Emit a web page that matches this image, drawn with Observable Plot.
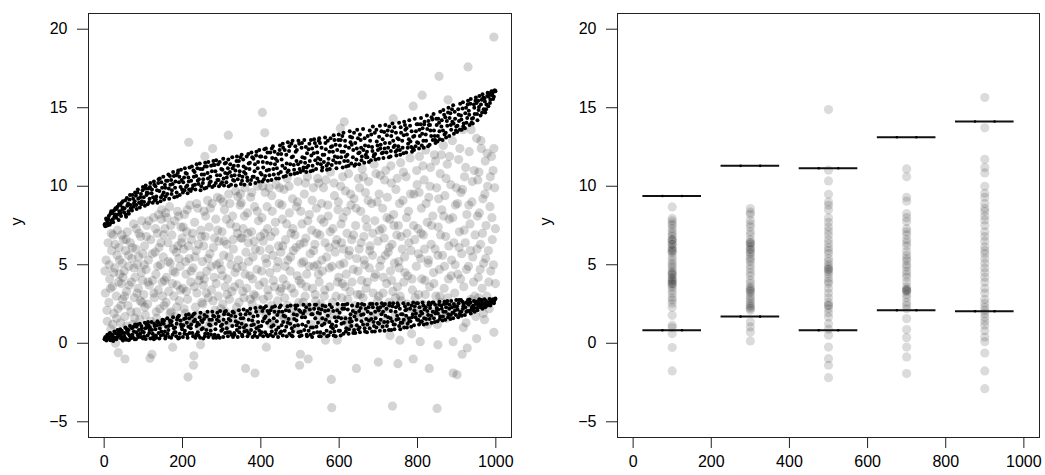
<!DOCTYPE html>
<html>
<head>
<meta charset="utf-8">
<script src="https://cdn.jsdelivr.net/npm/d3@7"></script>
<script src="https://cdn.jsdelivr.net/npm/@observablehq/plot@0.6"></script>
<style>
  html, body { margin: 0; padding: 0; background: #fff; }
  #panels { display: flex; width: 1045px; height: 475px; }
  #panels svg { display: block; }
</style>
</head>
<body>
<div id="panels"></div>
<script>
// ---- Left panel: raw observations (x, y) ----
const cloud = [
  [3,3.2],[5,5.3],[8,1.4],[10,6.4],[12,2.6],[14,4.1],[17,0.9],[19,5.9],[21,3.6],[23,6.9],[25,1.9],[27,4.8],[29,0.0],[31,3.0],[33,5.6],[35,2.2],[36,-0.6],[38,6.1],[40,4.4],[42,1.3],[44,3.8],[46,5.1],[47,2.8],[49,6.6],[53,-1.0],
  [51,4.6],[53,1.7],[55,5.9],[57,3.3],[59,7.1],[61,2.4],[63,4.9],[65,0.8],[67,6.4],[69,3.9],[71,5.4],[73,1.2],[75,7.6],[77,2.9],[79,4.2],[81,6.0],[83,2.0],[85,5.0],[87,3.5],[89,7.0],[91,1.5],[93,6.8],[95,4.5],[97,2.6],[99,5.7],[86,0.5],
  [101,3.1],[103,6.2],[105,1.8],[107,4.7],[109,7.5],[111,2.5],[113,5.3],[115,3.7],[117,-0.95],[119,6.6],[121,1.1],[122,-0.7],[124,4.0],[126,8.0],[128,2.9],[130,5.8],[132,4.4],[134,1.6],[136,7.0],[138,3.4],[140,6.1],[142,2.2],[144,5.0],[146,7.9],[148,3.9],[147,8.5],
  [151,5.5],[153,2.4],[155,7.3],[157,8.3],[159,4.2],[161,1.4],[163,6.4],[165,3.3],[167,8.7],[169,5.1],[171,2.0],[173,6.9],[175,-0.25],[176,4.6],[178,3.0],[180,7.8],[182,1.7],[184,5.8],[186,3.7],[188,6.2],[190,8.1],[192,2.7],[194,4.9],[196,7.4],[198,1.2],[199,6.7],
  [201,3.5],[203,6.0],[205,8.2],[207,1.9],[209,4.4],[211,7.1],[213,2.8],[214,-2.15],[216,12.8],[217,5.4],[219,8.8],[221,3.9],[223,6.6],[225,1.5],[227,4.8],[228,-1.4],[229,-0.8],[231,7.7],[233,2.3],[235,5.9],[237,3.2],[239,8.6],[241,6.3],[243,1.0],[245,4.3],[246,-0.1],[247,7.2],[249,2.6],
  [251,5.2],[253,3.7],[255,8.4],[257,11.9],[258,6.8],[260,1.8],[262,4.6],[264,9.1],[266,2.9],[268,7.4],[270,5.7],[272,1.3],[274,3.4],[276,8.9],[277,12.4],[279,6.1],[281,4.2],[283,2.1],[285,7.9],[287,5.0],[289,9.3],[291,3.0],[293,6.5],[295,1.6],[297,9.2],[299,4.7],
  [301,7.1],[303,2.5],[305,5.6],[307,8.5],[309,3.6],[311,1.1],[313,6.3],[315,4.1],[317,13.25],[318,9.5],[320,2.8],[322,7.6],[324,5.0],[326,3.3],[328,8.1],[330,6.0],[332,1.9],[334,4.5],[336,9.7],[338,2.3],[340,7.0],[341,9.35],[343,5.3],[345,3.8],[347,8.8],[349,6.7],[350,8.95],
  [351,1.5],[353,4.9],[355,7.3],[357,2.9],[359,9.9],[361,-1.6],[362,5.8],[364,3.5],[366,8.3],[368,6.4],[370,1.9],[372,4.3],[374,9.3],[376,7.1],[378,2.5],[380,5.5],[382,3.1],[384,8.7],[385,-1.9],[386,6.0],[388,1.2],[390,4.7],[392,10.0],[394,7.8],[396,3.7],[398,5.9],
  [401,2.1],[403,8.0],[404,14.7],[406,6.5],[408,3.9],[410,13.4],[411,9.6],[413,1.7],[414,-0.25],[415,5.1],[417,7.3],[419,3.0],[421,9.9],[423,4.5],[425,6.8],[427,2.4],[429,8.4],[431,5.6],[433,1.3],[435,3.6],[437,7.7],[439,10.1],[441,4.8],[443,2.7],[445,6.2],[447,8.9],[449,3.3],
  [451,5.8],[453,1.8],[455,7.9],[457,4.1],[459,9.8],[461,2.9],[463,6.6],[465,3.7],[467,10.5],[469,5.3],[471,1.4],[473,8.3],[475,4.6],[477,7.0],[479,2.2],[481,9.2],[483,5.9],[485,3.2],[487,6.9],[489,1.0],[491,8.7],[493,4.3],[495,10.3],[497,2.6],[499,-1.4],[500,6.3],[501,-0.7],
  [503,3.8],[505,7.6],[507,1.9],[509,5.2],[511,9.5],[513,3.0],[515,6.7],[517,4.4],[519,10.6],[521,-1.0],[522,2.3],[524,8.2],[526,5.7],[528,1.2],[530,7.2],[532,3.5],[534,9.9],[536,4.9],[538,6.3],[540,2.7],[542,8.6],[544,5.0],[546,1.6],[548,10.2],[549,3.9],
  [551,6.9],[553,2.5],[555,8.9],[557,4.6],[559,1.4],[561,7.7],[563,3.4],[565,0.2],[566,10.4],[568,5.5],[570,2.0],[572,8.1],[574,6.1],[576,3.6],[578,10.9],[580,-2.3],[581,-4.1],[582,4.9],[584,7.3],[586,1.8],[588,9.4],[590,5.8],[592,3.0],[594,6.6],[595,0.2],[597,8.5],[599,4.2],
  [601,2.2],[603,13.7],[604,10.0],[606,6.4],[608,3.8],[610,8.0],[612,5.1],[613,14.1],[614,1.5],[616,9.7],[618,4.4],[620,7.0],[622,2.8],[624,10.8],[626,5.9],[628,3.3],[630,8.8],[632,6.6],[634,1.0],[636,4.7],[638,9.2],[640,2.4],[642,7.5],[644,-1.6],[645,5.4],[647,3.1],[649,10.5],
  [651,6.0],[653,1.7],[655,8.4],[657,4.0],[659,11.1],[661,2.9],[663,6.8],[665,5.0],[667,9.6],[669,3.5],[671,7.4],[673,1.3],[675,10.3],[677,4.8],[679,6.2],[681,2.4],[683,8.9],[685,5.6],[687,3.2],[689,11.4],[691,7.8],[693,4.4],[695,1.9],[697,9.0],[699,6.5],[700,-1.2],
  [701,3.0],[703,7.2],[705,10.7],[707,5.3],[709,2.1],[711,8.6],[713,4.2],[715,6.7],[717,1.4],[719,11.0],[721,3.8],[723,9.3],[725,5.8],[727,2.6],[729,7.9],[730,0.5],[731,4.6],[733,10.2],[735,6.3],[736,-4.0],[737,3.3],[738,14.3],[739,8.2],[741,5.1],[743,1.8],[745,9.8],[747,6.9],[749,3.6],[750,-1.3],
  [751,7.5],[753,4.8],[755,0.2],[757,11.5],[759,2.7],[761,6.0],[763,9.1],[765,3.9],[767,5.5],[769,1.5],[771,10.6],[773,7.0],[775,4.3],[777,8.4],[779,2.2],[781,11.8],[783,5.9],[785,0.6],[787,3.4],[789,15.1],[789,-1.0],[791,9.5],[793,6.6],[795,1.9],[797,4.9],[799,10.1],
  [801,7.3],[803,3.1],[805,11.9],[807,0.1],[808,5.4],[810,8.6],[812,15.8],[813,2.5],[815,6.9],[817,10.4],[819,4.0],[821,12.3],[823,1.7],[825,7.7],[827,5.1],[829,9.3],[830,-1.6],[831,3.6],[833,11.2],[835,6.3],[837,2.0],[839,8.1],[841,4.5],[843,12.0],[845,6.0],[847,3.0],[849,9.9],
  [850,-4.15],[851,1.2],[852,-0.1],[853,7.4],[855,17.0],[856,4.7],[858,10.8],[860,2.6],[862,8.5],[864,5.6],[866,12.6],[868,3.5],[870,9.4],[872,6.8],[874,1.6],[876,11.4],[878,15.5],[879,4.1],[881,7.9],[883,2.3],[885,10.1],[887,5.3],[889,12.9],[891,0.1],[891,-1.9],[893,6.4],[895,3.2],[897,8.8],[899,9.9],
  [901,-2.0],[903,4.4],[905,11.7],[907,7.1],[909,2.0],[911,9.6],[913,5.7],[914,-0.7],[916,13.6],[918,3.6],[920,10.6],[922,6.4],[924,1.3],[926,8.2],[927,-0.3],[929,17.6],[930,4.9],[932,12.2],[934,7.6],[936,2.8],[937,13.6],[939,9.0],[941,5.5],[943,3.9],[945,11.0],[947,6.9],[949,1.7],
  [951,13.05],[951,0.3],[953,8.1],[955,4.2],[957,10.9],[959,2.4],[961,6.3],[963,12.4],[965,3.5],[967,9.2],[969,5.1],[971,1.5],[973,11.6],[975,7.5],[977,3.0],[979,10.0],[981,5.9],[983,2.2],[985,8.7],[987,4.6],[989,11.9],[991,6.6],[993,11.0],[995,12.4],[995,19.5],[995,0.7],[997,9.9],[999,3.8],[999,7.3],
  [2,4.6],[7,2.1],[13,5.0],[16,3.5],[22,1.2],[24,4.5],[28,6.3],[32,1.6],[37,3.9],[39,5.3],[43,2.4],[45,6.9],[48,4.2],[34,7.2],[18,7.0],
  [52,3.0],[56,6.6],[58,1.1],[62,5.6],[64,3.7],[68,2.0],[72,6.1],[76,4.8],[78,1.6],[82,7.3],[84,3.2],[88,5.5],[92,2.7],[96,7.8],[98,4.0],
  [102,5.0],[104,2.3],[108,6.8],[112,3.9],[114,7.8],[118,1.4],[123,5.7],[127,3.2],[131,7.3],[133,2.0],[137,4.9],[139,8.2],[143,1.2],[145,6.4],[149,3.0],
  [152,6.9],[154,4.0],[158,2.6],[160,8.0],[164,5.2],[168,1.9],[170,7.5],[174,3.8],[177,6.0],[181,4.5],[185,2.3],[187,8.4],[191,5.4],[195,3.4],[197,6.4],
  [202,7.4],[204,2.2],[208,5.2],[210,3.3],[212,8.5],[215,6.2],[218,1.3],[222,4.6],[226,7.0],[230,3.6],[232,5.5],[236,8.9],[238,1.8],[242,4.0],[248,6.8],
  [252,2.5],[254,6.2],[256,4.1],[259,8.1],[261,3.2],[265,5.4],[267,1.1],[271,8.6],[273,4.9],[278,2.7],[282,6.7],[286,3.8],[290,7.2],[294,5.1],[298,2.2],
  [302,4.3],[304,9.0],[306,6.5],[310,2.0],[312,7.9],[314,3.1],[319,5.5],[321,8.9],[325,1.4],[329,6.6],[333,3.6],[337,7.4],[339,4.8],[344,2.6],[348,9.5],
  [352,6.7],[354,3.3],[358,8.1],[360,4.4],[363,1.0],[367,7.0],[369,5.2],[373,2.8],[377,9.6],[379,4.1],[383,6.5],[387,3.0],[391,8.4],[395,2.2],[399,6.8],
  [402,4.6],[405,10.0],[407,2.8],[409,7.0],[412,5.4],[416,8.7],[418,3.4],[422,6.0],[426,1.2],[428,9.4],[432,4.0],[436,7.1],[440,2.0],[444,5.2],[448,9.9],
  [452,3.5],[454,8.8],[456,6.2],[460,1.6],[462,4.9],[466,7.6],[468,2.4],[472,10.0],[476,5.5],[478,3.5],[482,7.3],[486,1.8],[490,6.1],[494,9.0],[498,4.0],
  [502,8.4],[504,5.1],[508,2.6],[510,6.4],[514,10.2],[516,3.6],[520,7.8],[523,4.9],[527,2.0],[531,9.1],[535,5.9],[539,3.1],[543,7.0],[545,10.5],[547,4.4],
  [552,2.3],[554,7.9],[556,5.3],[560,9.9],[562,3.0],[564,6.4],[569,1.5],[571,8.8],[575,4.8],[577,7.1],[583,2.6],[587,10.2],[591,6.3],[596,3.9],[598,9.0],
  [602,5.0],[605,7.6],[607,2.9],[609,10.6],[611,6.0],[615,3.6],[619,8.4],[621,1.3],[625,5.6],[629,9.5],[633,3.9],[637,6.9],[641,1.9],[643,8.6],[648,4.6],
  [652,9.9],[654,3.1],[656,6.4],[660,2.1],[662,10.6],[664,5.3],[668,7.9],[672,3.9],[674,9.1],[678,5.9],[682,1.6],[686,7.0],[690,4.2],[694,10.8],[698,2.7],
  [702,9.5],[704,4.9],[706,1.2],[710,7.3],[712,3.2],[716,10.4],[718,5.6],[722,8.0],[726,2.2],[728,6.1],[732,11.3],[734,4.0],[740,7.5],[744,2.9],[748,10.5],
  [752,5.2],[754,8.9],[756,3.0],[758,6.8],[762,1.2],[764,10.9],[768,4.5],[772,8.0],[774,2.5],[778,6.4],[782,9.5],[786,4.1],[790,7.5],[794,2.9],[798,11.0],
  [802,5.7],[804,9.6],[806,2.1],[809,7.0],[811,4.1],[814,11.3],[818,6.0],[820,3.1],[822,8.9],[826,1.2],[828,5.3],[832,10.0],[836,7.5],[842,3.8],[846,11.6],
  [852,5.6],[854,9.2],[857,3.0],[859,6.9],[861,12.0],[863,1.9],[867,8.1],[869,4.9],[873,10.5],[877,2.9],[880,6.2],[882,11.9],[886,4.3],[890,8.0],[896,5.0],
  [902,8.9],[904,2.6],[906,6.1],[908,12.4],[910,4.1],[915,9.8],[917,1.0],[919,7.2],[923,11.2],[925,4.7],[928,2.2],[931,8.8],[935,5.9],[940,10.3],[946,3.0],
  [952,6.0],[954,10.4],[956,2.9],[958,8.3],[960,4.7],[962,12.9],[966,7.0],[968,1.9],[972,9.5],[974,5.4],[978,12.1],[982,3.9],[986,10.6],[990,8.0],[994,5.0]
];

// ---- Left panel: fitted upper and lower quantile values at each x ----
const bandX = [
  1,3,6,9,11,14,16,19,21,23,26,29,31,34,37,39,41,43,46,48,51,54,56,59,61,63,66,68,71,74,76,79,81,83,86,89,91,94,96,99,
  101,104,106,109,111,113,116,118,121,124,127,129,131,133,136,139,141,144,146,149,151,153,156,158,161,164,166,169,171,173,176,179,181,184,186,189,191,193,196,199,
  201,204,206,209,211,213,216,218,221,224,227,229,231,233,236,239,241,244,246,249,251,253,256,258,261,264,266,269,271,273,276,279,281,284,286,289,291,293,296,299,
  301,304,306,309,311,313,316,318,321,324,327,329,331,333,336,339,341,344,346,349,351,353,356,358,361,364,366,369,371,373,376,379,381,384,386,389,391,393,396,399,
  401,404,406,409,411,413,416,418,421,424,427,429,431,433,436,439,441,444,446,449,451,453,456,458,461,464,466,469,471,473,476,479,481,484,486,489,491,493,496,499,
  501,504,506,509,511,513,516,518,521,524,527,529,531,533,536,539,541,544,546,549,551,553,556,558,561,564,566,569,571,573,576,579,581,584,586,589,591,593,596,599,
  601,604,606,609,611,613,616,618,621,624,627,629,631,633,636,639,641,644,646,649,651,653,656,658,661,664,666,669,671,673,676,679,681,684,686,689,691,693,696,699,
  701,704,706,709,711,713,716,718,721,724,727,729,731,733,736,739,741,744,746,749,751,753,756,758,761,764,766,769,771,773,776,779,781,784,786,789,791,793,796,799,
  801,804,806,809,811,813,816,818,821,824,827,829,831,833,836,839,841,844,846,849,851,853,856,858,861,864,866,869,871,873,876,879,881,884,886,889,891,893,896,899,
  901,904,906,909,911,913,916,918,921,924,927,929,931,933,936,939,941,944,946,949,951,953,956,958,961,964,966,969,971,973,976,979,981,984,986,989,991,993,996,999,
  2,5,8,12,15,18,22,25,28,32,35,38,42,45,47,52,55,58,62,65,67,72,75,78,82,85,87,92,95,98,
  102,105,108,112,115,117,122,125,128,132,135,138,142,145,148,152,155,157,162,165,168,172,175,178,182,185,188,192,195,198,
  202,205,208,212,215,217,222,225,228,232,235,238,242,245,248,252,255,257,262,265,268,272,275,278,282,285,288,292,295,298,
  302,305,308,312,315,317,322,325,328,332,335,338,342,345,348,352,355,357,362,365,368,372,375,378,382,385,388,392,395,398,
  402,405,408,412,415,417,422,425,428,432,435,438,442,445,448,452,455,457,462,465,468,472,475,478,482,485,488,492,495,498,
  502,505,508,512,515,517,522,525,528,532,535,538,542,545,548,552,555,557,562,565,568,572,575,578,582,585,588,592,595,598,
  602,605,608,612,615,617,622,625,628,632,635,638,642,645,648,652,655,657,662,665,668,672,675,678,682,685,688,692,695,698,
  702,705,708,712,715,717,722,725,728,732,735,738,742,745,748,752,755,757,762,765,768,772,775,778,782,785,788,792,795,798,
  802,805,808,812,815,817,822,825,828,832,835,838,842,845,848,852,855,857,862,865,868,872,875,878,882,885,888,892,895,898,
  902,905,908,912,915,917,922,925,928,932,935,938,942,945,948,952,955,957,962,965,968,972,975,978,982,985,988,992,995,998
];
const upperBand = [
  7.55,7.45,7.85,7.7,7.9,7.55,8.25,7.8,8.3,7.7,8.05,8.6,8.0,8.7,7.85,8.4,8.8,8.1,8.5,9.05,8.35,9.1,8.05,8.75,8.9,8.25,9.45,8.6,8.45,9.2,8.9,9.6,9.4,8.55,9.8,8.95,8.65,9.5,9.05,9.95,
  9.3,8.75,10.05,9.6,8.85,9.85,9.2,10.2,9.55,8.95,10.3,9.1,10.0,9.35,8.95,10.45,9.7,9.05,10.25,9.45,10.6,9.15,9.9,10.35,9.5,10.75,9.2,10.1,10.4,9.75,10.9,9.3,9.9,10.7,9.35,11.0,10.25,9.45,11.05,9.8,
  9.6,10.55,11.15,9.95,10.8,9.55,10.3,11.2,9.7,11.25,10.05,10.6,10.9,9.8,11.4,10.35,10.15,11.45,9.75,10.75,11.1,10.45,9.85,11.5,9.9,10.85,11.55,10.2,10.6,11.3,9.95,11.6,10.05,10.95,11.65,10.4,11.4,10.0,10.7,11.1,
  10.25,11.75,10.05,10.85,11.5,10.55,11.15,10.0,10.9,10.1,11.85,10.4,11.3,10.7,10.05,11.9,10.45,11.6,10.95,10.15,12.0,10.6,11.25,10.1,10.8,11.9,10.35,11.45,11.1,10.15,12.15,10.6,11.75,10.95,10.2,12.2,10.5,11.55,12.3,10.85,
  11.9,10.3,11.2,12.35,10.65,12.4,11.5,10.35,11.05,12.15,10.4,11.8,12.55,10.75,11.4,10.5,11.15,12.05,10.5,12.6,10.9,11.7,12.7,10.6,12.3,10.65,11.45,12.8,11.0,12.55,10.75,11.85,12.9,11.35,10.8,12.2,11.6,10.85,12.9,11.1,
  10.9,12.45,11.85,11.2,12.95,11.5,10.9,12.1,11.3,12.7,10.95,11.95,12.4,11.0,13.0,11.65,11.1,12.15,11.8,13.05,12.75,11.4,11.0,12.0,11.55,13.1,12.35,11.05,12.9,11.75,11.1,12.5,11.35,12.2,13.25,11.9,12.65,11.15,11.85,13.3,
  11.5,12.95,12.2,11.2,13.4,11.6,12.55,11.25,12.0,11.3,13.5,12.8,11.45,13.1,12.3,11.3,12.75,11.7,13.6,12.1,11.4,13.3,12.45,11.9,13.65,11.5,12.6,11.85,12.2,13.2,11.55,12.9,11.65,12.5,13.8,12.0,13.4,11.7,12.85,12.3,
  11.75,13.85,12.65,12.1,13.0,11.8,12.4,13.9,12.15,13.55,11.85,12.75,11.9,13.2,14.0,12.5,13.75,12.2,11.95,13.05,12.55,14.05,12.0,13.4,12.9,12.1,14.1,13.6,12.15,13.3,12.7,14.2,13.85,12.5,12.2,13.15,12.3,14.3,13.5,12.8,
  13.95,12.4,13.2,14.35,12.6,13.7,12.45,14.1,13.3,14.5,12.55,13.9,12.65,13.55,14.4,12.95,14.6,13.2,12.75,13.9,12.85,14.3,13.5,14.75,13.8,12.95,14.85,13.3,14.4,13.1,13.85,15.0,13.2,14.65,13.6,14.1,15.15,13.35,14.3,13.8,
  13.45,14.9,14.15,15.25,14.5,13.6,15.35,14.0,13.7,15.0,14.35,15.45,14.8,13.9,15.55,14.3,14.0,15.2,14.6,15.65,15.3,14.2,14.85,15.75,14.5,15.5,15.85,14.9,15.6,14.7,15.2,15.95,15.1,15.9,15.5,16.05,15.8,15.55,16.1,16.05,
  7.6,7.95,7.5,8.1,7.65,8.4,7.9,8.45,8.2,8.55,8.2,8.85,8.3,8.95,8.65,8.6,8.2,9.25,8.4,9.15,8.8,9.45,8.7,9.05,8.8,9.6,9.2,9.3,8.85,9.75,
  9.0,9.85,9.45,9.55,9.0,9.95,9.8,9.3,10.1,9.15,9.75,10.2,10.5,9.3,9.9,9.6,10.1,9.35,10.35,9.85,10.65,9.5,10.15,10.65,10.3,9.6,10.85,10.6,9.95,10.4,
  10.25,9.75,10.85,10.05,10.55,9.8,10.35,9.85,11.0,10.1,10.65,11.15,10.45,11.1,10.0,10.2,10.75,11.25,11.25,10.5,10.05,10.3,10.95,11.35,11.35,10.2,10.7,10.4,11.55,10.15,
  11.05,10.5,11.45,10.25,10.8,11.7,11.4,10.65,11.15,10.35,11.0,11.6,11.3,10.7,11.85,10.35,11.7,10.9,11.15,10.55,12.05,11.5,10.4,11.85,10.6,11.4,11.95,11.15,10.3,11.9,
  10.75,11.55,10.45,11.85,11.0,12.15,10.7,11.45,12.4,11.1,12.2,11.75,11.6,10.8,12.3,12.05,11.3,12.45,11.15,12.0,10.9,12.25,11.4,12.7,11.9,11.05,12.55,12.3,11.4,12.7,
  11.55,12.75,11.0,11.8,12.5,11.2,12.35,11.6,12.95,11.3,12.1,12.75,12.55,11.45,12.9,11.7,12.45,11.2,12.0,12.75,11.3,11.45,12.2,13.05,12.55,11.65,12.95,11.5,12.3,12.95,
  12.6,11.85,13.2,12.2,12.9,11.9,11.6,12.45,13.15,12.65,11.85,13.4,11.4,12.4,13.05,12.15,12.95,11.65,12.3,13.05,12.0,11.85,12.55,13.55,13.3,12.25,11.9,12.05,13.6,12.6,
  13.15,12.4,13.5,12.15,13.45,12.75,13.25,12.45,13.8,12.25,13.5,12.9,12.6,13.4,12.3,13.0,12.3,13.75,12.45,13.25,13.9,13.7,12.45,13.0,12.85,13.5,12.4,13.2,12.55,13.95,
  12.75,13.6,13.95,13.35,12.9,13.95,12.9,13.65,14.15,13.9,13.2,14.25,13.55,12.95,14.3,13.2,14.05,13.0,14.2,13.55,14.55,13.4,14.15,14.7,14.35,13.9,14.9,14.0,14.75,13.55,
  13.85,14.55,13.6,14.25,14.95,13.8,14.65,14.05,15.2,14.55,15.25,14.05,14.35,15.0,15.45,14.6,15.45,15.05,15.2,14.7,15.65,15.4,14.9,15.75,15.7,15.3,15.85,15.95,15.7,16.1
];
const lowerBand = [
  0.25,0.4,0.18,0.48,0.3,0.62,0.2,0.45,0.55,0.15,0.75,0.35,0.25,0.85,0.5,0.7,0.9,0.3,0.65,0.18,0.45,1.0,0.22,0.78,0.6,0.2,1.1,0.4,0.95,0.35,0.75,1.2,0.25,1.05,0.55,0.85,1.25,0.4,0.95,0.3,
  0.7,1.3,0.28,1.0,0.5,1.15,0.85,0.3,1.35,0.6,0.25,1.1,0.9,0.35,1.4,0.65,0.3,1.2,0.75,1.5,0.55,1.45,0.3,1.05,1.6,0.85,0.4,1.3,0.35,1.15,1.65,0.7,1.0,0.45,1.5,0.3,1.75,0.6,1.2,0.9,
  0.4,1.55,0.8,1.8,1.3,0.35,1.85,0.65,0.95,1.7,0.45,1.4,1.9,0.35,1.1,0.7,0.5,1.65,1.95,0.9,1.35,0.3,1.8,0.6,0.85,2.0,0.4,1.5,1.15,0.55,2.0,0.35,1.7,0.9,0.35,1.95,0.5,1.4,2.05,0.8,
  1.2,0.4,1.85,0.65,2.05,0.95,0.45,1.55,0.7,1.75,1.1,0.4,1.95,0.55,1.4,0.85,0.4,2.1,1.0,1.6,1.25,0.45,2.15,0.75,1.85,0.8,0.45,1.5,0.6,2.2,1.15,0.4,1.7,0.5,2.25,0.95,0.4,1.35,0.8,2.3,
  1.1,2.05,0.45,1.6,0.7,2.35,1.3,0.45,1.9,0.55,1.05,2.3,0.45,1.6,2.35,0.85,1.4,0.4,2.0,0.65,2.4,1.15,0.5,1.75,0.8,2.1,0.45,1.3,1.55,0.6,2.4,0.95,0.45,1.85,1.1,2.2,1.45,2.4,0.7,0.45,
  2.0,0.5,1.2,2.45,0.85,1.65,2.3,0.45,1.35,2.45,0.55,1.85,0.4,1.0,2.2,1.6,2.45,0.7,1.3,0.45,1.9,0.45,1.15,2.4,0.6,2.05,1.5,0.45,1.75,0.5,2.45,1.05,2.3,0.95,0.5,1.65,0.45,1.4,2.5,0.8,
  1.95,0.5,1.25,2.45,0.6,2.2,1.6,0.95,2.5,0.6,1.35,1.85,1.1,2.4,0.65,1.7,0.65,1.5,2.35,0.9,2.05,0.7,1.8,2.5,1.2,2.45,0.75,1.55,0.7,2.0,1.45,2.5,1.9,0.75,2.3,1.1,0.75,1.6,2.5,1.3,
  2.1,0.8,1.5,2.55,1.05,2.4,0.8,1.75,2.2,1.35,0.85,2.55,1.6,0.85,2.35,1.2,0.9,2.0,1.5,2.55,2.4,1.1,0.9,1.85,1.3,2.55,1.0,2.1,1.75,1.0,2.5,1.4,2.2,1.05,1.65,2.6,1.15,2.35,1.9,1.5,
  2.55,1.2,1.75,2.0,1.4,2.6,1.2,2.15,2.3,1.25,1.8,2.6,1.55,2.45,1.3,2.0,2.6,1.35,1.9,2.25,1.4,2.15,2.65,1.7,2.4,1.45,2.0,2.65,1.5,2.3,2.7,1.85,2.2,1.55,2.7,1.95,1.6,2.5,2.1,2.75,
  2.35,1.65,2.75,2.0,2.75,1.75,2.2,2.5,1.8,2.6,2.05,2.75,2.45,2.78,1.9,2.3,2.1,2.7,2.0,2.5,2.65,2.1,2.4,2.8,2.3,2.75,2.2,2.55,2.8,2.3,2.6,2.45,2.5,2.82,2.4,2.7,2.6,2.8,2.7,2.85,
  0.32,0.22,0.55,0.4,0.65,0.25,0.45,0.28,0.65,0.6,0.4,0.8,0.5,0.8,0.35,0.65,0.3,0.9,0.85,0.5,0.3,0.55,1.05,0.25,0.7,1.2,0.4,0.6,1.1,0.75,
  0.45,0.95,1.2,1.35,0.65,1.0,0.85,0.4,1.25,0.5,1.15,1.3,0.95,0.5,1.35,1.25,0.75,0.45,0.6,1.1,1.45,1.4,0.55,0.95,0.7,1.25,1.65,0.35,1.45,1.05,
  1.15,0.6,1.6,0.55,1.05,1.6,1.2,0.65,1.85,1.5,0.55,1.3,1.2,0.35,1.45,0.95,1.55,0.45,1.7,0.6,1.2,0.8,1.5,1.75,0.55,1.25,1.5,1.7,0.35,1.1,
  0.9,1.5,2.0,1.3,0.7,1.85,1.45,0.55,2.0,0.65,1.7,1.15,1.3,0.7,1.85,0.55,1.6,1.0,1.15,2.05,0.65,1.9,0.85,1.45,1.2,0.7,2.0,1.75,1.05,0.55,
  0.7,1.4,2.25,1.7,0.55,2.05,1.45,2.1,0.75,1.15,2.0,0.6,1.8,1.0,2.3,0.75,2.0,1.35,1.7,1.05,2.35,2.05,1.25,0.5,0.75,1.55,2.4,1.8,1.15,2.1,
  0.75,1.65,1.9,2.05,1.1,0.55,0.8,2.15,1.0,1.85,0.65,2.45,1.05,1.95,2.2,0.7,2.15,1.6,1.25,2.35,0.8,2.1,1.35,0.7,1.2,2.05,0.75,1.1,2.1,1.65,
  0.8,1.6,2.2,1.3,2.45,0.75,2.15,0.9,1.6,1.4,2.05,0.85,1.95,1.15,2.5,1.0,2.25,1.4,1.85,0.95,2.2,1.2,2.3,0.95,1.55,2.5,1.35,2.0,1.0,2.25,
  1.25,2.3,1.85,2.0,1.35,2.5,1.1,1.65,2.4,2.05,1.4,2.55,1.2,2.3,1.75,1.55,2.2,1.3,1.85,1.5,2.35,2.15,1.25,1.6,1.4,2.4,1.85,2.1,1.65,2.55,
  1.5,2.3,1.35,1.9,2.4,1.6,1.55,2.05,2.45,2.25,1.75,2.6,1.6,2.45,2.05,1.9,2.45,1.55,2.2,1.7,2.5,2.0,2.55,1.65,2.45,1.8,2.3,1.95,2.35,1.8,
  2.15,2.55,1.85,2.0,2.65,2.35,2.3,2.0,2.55,2.05,2.6,2.15,2.4,2.25,2.65,2.25,2.55,2.7,2.45,2.6,2.35,2.5,2.7,2.4,2.6,2.45,2.75,2.7,2.55,2.8
];

// ---- Right panel: observations grouped at five x positions ----
const groupX = [100, 300, 500, 700, 900];
const group100 = [8.68,7.95,7.8,7.62,7.5,7.3,7.1,6.95,6.8,6.6,6.6,6.5,6.3,6.3,6.1,6.0,5.9,5.85,5.75,5.5,5.3,5.1,4.95,4.8,4.6,4.5,4.4,4.35,4.2,4.1,4.0,3.95,3.8,3.8,3.7,3.55,3.35,3.15,2.9,2.75,2.55,2.3,1.78,1.15,1.0,0.62,-0.27,-1.76];
const group300 = [8.58,8.35,8.2,7.83,7.6,7.41,7.1,6.9,6.6,6.4,6.4,6.3,6.15,6.0,5.95,5.8,5.7,5.5,5.35,5.2,4.97,4.75,4.5,4.3,4.01,3.8,3.6,3.48,3.4,3.3,3.2,3.0,2.85,2.7,2.53,2.4,2.3,2.21,2.1,1.36,1.04,0.72,0.15];
const group500 = [14.88,11.02,10.34,9.49,9.0,8.79,8.5,8.0,7.7,7.41,7.15,6.9,6.6,6.35,6.1,5.9,5.71,5.4,5.2,5.0,4.85,4.71,4.7,4.55,4.4,4.15,3.95,3.8,3.5,3.2,2.9,2.6,2.42,2.4,2.2,1.95,1.68,1.25,0.9,0.51,-0.24,-0.98,-1.4,-2.19];
const group700 = [11.1,10.6,9.3,9.05,8.25,8.0,7.75,7.3,7.1,6.9,6.6,6.4,6.2,5.85,5.6,5.4,5.25,5.0,4.85,4.6,4.4,4.2,3.9,3.6,3.45,3.38,3.38,3.3,3.1,2.9,2.6,2.4,2.2,1.57,0.87,0.36,-0.24,-0.87,-1.93];
const group900 = [15.65,13.72,11.72,11.2,10.85,10.0,9.55,9.3,8.9,8.6,8.4,8.1,7.85,7.5,7.1,6.8,6.5,6.15,5.9,5.7,5.4,5.1,4.8,4.5,4.2,3.9,3.5,3.2,2.8,2.55,2.3,2.1,1.9,1.65,1.4,1.15,0.8,0.4,0.1,-0.62,-1.76,-2.89];
const groupUpper = [9.38, 11.3, 11.15, 13.12, 14.12];
const groupLower = [0.83, 1.70, 0.83, 2.10, 2.04];

// ---- Shared axis settings ----
const xTicks = [0, 200, 400, 600, 800, 1000];
const yTicks = [-5, 0, 5, 10, 15, 20];
const font = "'Liberation Sans', Arial, Helvetica, sans-serif";

const upperPts = bandX.map((x, i) => ({x, y: upperBand[i]}));
const lowerPts = bandX.map((x, i) => ({x, y: lowerBand[i]}));
const groupValues = [group100, group300, group500, group700, group900];
const groupPts = groupX.flatMap((gx, i) => groupValues[i].map(y => ({x: gx, y})));
const limits = groupX.flatMap((gx, i) => [
  {x: gx, y: groupUpper[i]},
  {x: gx, y: groupLower[i]}
]);
const limitKnots = limits.flatMap(d => [{x: d.x - 25, y: d.y}, {x: d.x + 25, y: d.y}]);

function panel(width, marginLeft, marginRight, marks) {
  return Plot.plot({
    width,
    height: 475,
    marginTop: 13,
    marginBottom: 38,
    marginLeft,
    marginRight,
    style: {fontFamily: font, fontSize: "16px", color: "#000", background: "#fff", overflow: "visible"},
    x: {domain: [-40, 1040]},
    y: {domain: [-6, 21]},
    marks: [
      ...marks,
      Plot.frame({stroke: "#222", strokeWidth: 1}),
      Plot.axisX({ticks: xTicks, tickSize: 11, tickPadding: 7, tickFormat: d => String(d), label: null, fontSize: 16, stroke: "#222"}),
      Plot.axisY({ticks: yTicks, tickSize: 11, tickPadding: 10, tickFormat: d => (d < 0 ? "\u2212" + Math.abs(d) : String(d)), label: null, fontSize: 16, stroke: "#222"}),
      Plot.text(["y"], {frameAnchor: "left", dx: -72, rotate: -90, text: d => d, fontSize: 16, fill: "#000"})
    ]
  });
}

const left = panel(522, 88, 11, [
  Plot.dot(cloud, {x: d => d[0], y: d => d[1], r: 4.6, fill: "#000", fillOpacity: 0.17, stroke: "none"}),
  Plot.dot(upperPts, {x: "x", y: "y", r: 2.0, fill: "#000", stroke: "none"}),
  Plot.dot(lowerPts, {x: "x", y: "y", r: 2.0, fill: "#000", stroke: "none"})
]);

const right = panel(523, 95, 6, [
  Plot.dot(groupPts, {x: "x", y: "y", r: 4.6, fill: "#000", fillOpacity: 0.14, stroke: "none"}),
  Plot.ruleY(limits, {x1: d => d.x - 75, x2: d => d.x + 75, y: "y", stroke: "#111", strokeWidth: 2}),
  Plot.dot(limitKnots, {x: "x", y: "y", r: 1.3, fill: "#000"})
]);

document.getElementById("panels").append(left, right);
</script>
</body>
</html>
